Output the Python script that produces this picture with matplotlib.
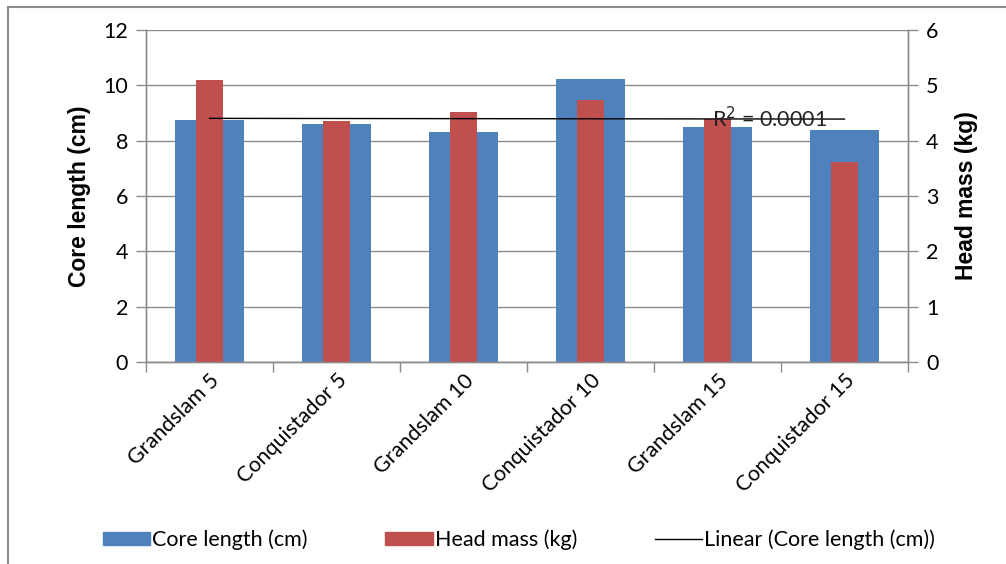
import numpy as np
import matplotlib
matplotlib.use("Agg")
import matplotlib.pyplot as plt
from matplotlib.patches import Rectangle, Patch
from matplotlib.lines import Line2D

# --- Data ---
varieties = ["Grandslam 5", "Conquistador 5", "Grandslam 10",
             "Conquistador 10", "Grandslam 15", "Conquistador 15"]
core_length = [8.75, 8.59, 8.30, 10.24, 8.50, 8.38]   # cm
head_mass = [5.10, 4.36, 4.52, 4.74, 4.39, 3.61]      # kg
r2_label = "R$^2$ = 0.0001"

BLUE = "#4F81BD"
RED = "#C0504D"
GRID = "#8C8C8C"
TICK_FONT = "Lato"
LABEL_FONT = "Liberation Sans"
FS = 15.5

fig = plt.figure(figsize=(10.06, 5.64), dpi=100)
ax = fig.add_axes([146 / 1006, 1 - 362 / 564, 762 / 1006, 332 / 564])
ax2 = ax.twinx()

x = np.arange(len(varieties))

# core length on the left axis, head mass overlaid on the right axis
ax.bar(x, core_length, width=0.55, color=BLUE, zorder=2)
ax2.bar(x, head_mass, width=0.21, color=RED, zorder=2)

# linear trend of core length
slope, icpt = np.polyfit(x, core_length, 1)
trend = slope * x + icpt
ax2.plot(x, trend, color="black", lw=1.0, transform=ax.transData, zorder=3)
ax2.text(3.96, trend[4], r2_label, transform=ax.transData, ha="left", va="center",
         fontsize=FS, family=TICK_FONT, color="#222222", zorder=4)

ax.set_xlim(-0.5, len(varieties) - 0.5)
ax.set_ylim(0, 12)
ax2.set_ylim(0, 6)
ax.set_yticks(np.arange(0, 13, 2))
ax2.set_yticks(np.arange(0, 7, 1))

ax.yaxis.grid(True, color=GRID, lw=1.0, zorder=0)
ax.set_axisbelow(True)

ax.set_xticks(np.arange(-0.5, len(varieties)), minor=False, labels=[""] * (len(varieties) + 1))
ax.set_xticks(x, minor=True, labels=varieties)
ax.tick_params(axis="x", which="major", length=7, color=GRID, width=1, direction="out")
ax.tick_params(axis="x", which="minor", length=0, pad=6)
for lbl in ax.get_xticklabels(minor=True):
    lbl.set_rotation(45)
    lbl.set_ha("right")
    lbl.set_rotation_mode("anchor")
    lbl.set_fontsize(FS)
    lbl.set_family(TICK_FONT)

for a in (ax, ax2):
    a.tick_params(axis="y", length=7, color=GRID, width=1, labelsize=FS, pad=6)
    for lbl in a.get_yticklabels():
        lbl.set_family(TICK_FONT)
    a.spines["top"].set_visible(False)
    for s in ("left", "right", "bottom"):
        a.spines[s].set_color(GRID)
        a.spines[s].set_linewidth(1)

ax.set_ylabel("Core length (cm)", fontsize=16.5, fontweight="bold", family=LABEL_FONT, labelpad=9)
ax2.set_ylabel("Head mass (kg)", fontsize=16.5, fontweight="bold", family=LABEL_FONT, labelpad=12)

handles = [Patch(color=BLUE), Patch(color=RED), Line2D([], [], color="black", lw=1)]
names = ["Core length (cm)", "Head mass (kg)", "Linear (Core length (cm))"]
fig.legend(handles, names, loc="center", bbox_to_anchor=(0.516, 0.043), ncol=3,
           frameon=False, handlelength=2.2, handleheight=0.6, handletextpad=0.1,
           columnspacing=3.6, prop={"family": TICK_FONT, "size": FS})

# chart frame
fig.add_artist(Rectangle((8 / 1006, -0.05), 1.1, 1.05 - 7 / 564, transform=fig.transFigure,
                         fill=False, edgecolor="#8C8C8C", lw=1.5))

fig.savefig("out.png", dpi=100)
